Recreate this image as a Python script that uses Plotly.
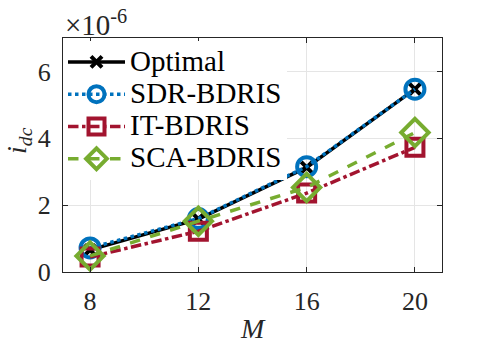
import plotly.graph_objects as go

M = [8, 12, 16, 20]
optimal = [0.66e-6, 1.58e-6, 3.13e-6, 5.47e-6]
sdr = [0.72e-6, 1.60e-6, 3.15e-6, 5.47e-6]
it = [0.45e-6, 1.22e-6, 2.36e-6, 3.73e-6]
sca = [0.48e-6, 1.52e-6, 2.53e-6, 4.17e-6]
names = ["Optimal", "SDR-BDRIS", "IT-BDRIS", "SCA-BDRIS"]
xticks = [8, 12, 16, 20]
yticks = [0, 2e-6, 4e-6, 6e-6]
ytick_text = ["0", "2", "4", "6"]

FONT = "Liberation Serif"


def lbl(s):
    return '<span style="font-size:29px">' + s + '</span>'


fig = go.Figure()
fig.add_trace(go.Scatter(x=M, y=optimal, name=lbl(names[0]), mode="lines+markers",
                         line=dict(color="black", width=3.5),
                         marker=dict(symbol="x-thin-open", size=11, line=dict(color="black", width=4))))
fig.add_trace(go.Scatter(x=M, y=sdr, name=lbl(names[1]), mode="lines+markers",
                         line=dict(color="#0072BD", width=3.5, dash="dot"),
                         marker=dict(symbol="circle-open", size=19, line=dict(color="#0072BD", width=4))))
fig.add_trace(go.Scatter(x=M, y=it, name=lbl(names[2]), mode="lines+markers",
                         line=dict(color="#A2142F", width=3.5, dash="dashdot"),
                         marker=dict(symbol="square-open", size=17, line=dict(color="#A2142F", width=4))))
fig.add_trace(go.Scatter(x=M, y=sca, name=lbl(names[3]), mode="lines+markers",
                         line=dict(color="#77AC30", width=3.5, dash="dash"),
                         marker=dict(symbol="diamond-open", size=21, line=dict(color="#77AC30", width=4))))

fig.update_layout(
    width=488, height=346,
    margin=dict(l=63, r=46, t=38, b=74),
    paper_bgcolor="white", plot_bgcolor="white",
    font=dict(family=FONT, size=26, color="#262626"),
    showlegend=True,
    legend=dict(x=0.0, y=0.988, xanchor="left", yanchor="top",
                bgcolor="white", borderwidth=0, itemwidth=57, itemsizing="trace",
                font=dict(family=FONT, size=22.5, color="black"),
                tracegroupgap=0),
    xaxis=dict(range=[7, 21], tickvals=xticks, ticks="inside", ticklen=5,
               showline=True, linecolor="#262626", linewidth=1, mirror="ticks",
               showgrid=True, gridcolor="#E5E5E5", gridwidth=1, zeroline=False,
               tickfont=dict(size=26), tickcolor="#262626", automargin=False,
               ticklabelstandoff=6),
    yaxis=dict(range=[0, 7e-6], tickvals=yticks, ticktext=ytick_text, ticks="inside", ticklen=5,
               showline=True, linecolor="#262626", linewidth=1, mirror="ticks",
               showgrid=True, gridcolor="#E5E5E5", gridwidth=1, zeroline=False,
               tickfont=dict(size=26), tickcolor="#262626", automargin=False,
               ticklabelstandoff=6),
    annotations=[
        dict(text="×10<sup>-6</sup>", x=0, y=1.0, xref="paper", yref="paper",
             xanchor="left", yanchor="bottom", showarrow=False,
             font=dict(family=FONT, size=29, color="#262626"), yshift=-5),
        dict(text="<i>i</i><sub><i>dc</i></sub>", x=-0.119, y=0.564, xref="paper", yref="paper",
             textangle=-90, showarrow=False, xanchor="center", yanchor="middle",
             font=dict(family=FONT, size=28, color="#262626")),
        dict(text="<i>M</i>", x=0.5, y=-0.24, xref="paper", yref="paper",
             showarrow=False, xanchor="center", yanchor="middle",
             font=dict(family=FONT, size=28, color="#262626")),
    ],
)

fig.write_html("out.html", config={"displayModeBar": False},
               post_script="document.body.style.margin='0';")
